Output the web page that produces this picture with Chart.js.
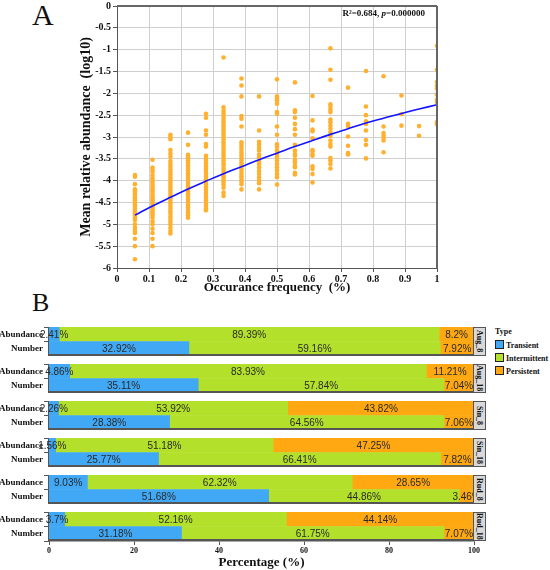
<!DOCTYPE html>
<html>
<head>
<meta charset="utf-8">
<script src="https://cdn.jsdelivr.net/npm/chart.js@4.4.1/dist/chart.umd.min.js"></script>
<style>
  body { margin: 0; background: #fff; }
  #wrap { position: relative; width: 550px; height: 570px; }
  canvas { position: absolute; left: 0; }
  .panel { position: absolute; left: 32px; font-family: "Liberation Serif", serif; color: #111; }
  .strip {
    position: absolute; left: 473px; width: 13px; height: 29px; box-sizing: border-box;
    background: #d9d9d9; border: 1px solid #555; writing-mode: vertical-rl;
    font: bold 8px "Liberation Serif", serif; color: #111; text-align: center; line-height: 11px;
  }
  .legend { position: absolute; left: 495px; top: 327px; font: bold 8px "Liberation Serif", serif; color: #111; }
  .legend div { height: 13px; line-height: 10px; white-space: nowrap; }
  .legend span { display: inline-block; width: 7px; height: 7px; border: 1px solid #222; vertical-align: -1px; margin-right: 2px; }
</style>
</head>
<body>
<div id="wrap">
  <div id="facets"></div>
  <div class="panel" style="top:0; font-size:30px; line-height:30px;">A</div>
  <div class="panel" style="top:290px; font-size:26px; line-height:26px;">B</div>
  <div class="legend">
    <div>Type</div>
    <div><span style="background:#40a8f5"></span>Transient</div>
    <div><span style="background:#b3e02b"></span>Intermittent</div>
    <div><span style="background:#ffa812"></span>Persistent</div>
  </div>
  <canvas id="scatterA" width="550" height="295" style="top:0"></canvas>
</div>
<script>
// --- Panel A : occurrence frequency vs mean relative abundance ---
const freqLevels = [0.056, 0.111, 0.167, 0.222, 0.278, 0.333, 0.389, 0.444, 0.5, 0.556, 0.611, 0.667, 0.722, 0.778, 0.833, 0.889, 0.944, 1];

const abund01 = [-3.87, -3.91, -4.08, -4.2, -4.25, -4.3, -4.35, -4.4, -4.45, -4.5, -4.55, -4.6, -4.65, -4.7, -4.75, -4.8, -4.85, -4.9, -5.0, -5.08, -5.15, -5.2, -5.33, -5.5, -5.8];
const abund02 = [-3.52, -3.7, -3.75, -3.8, -3.88, -3.95, -4.0, -4.05, -4.1, -4.15, -4.2, -4.25, -4.3, -4.35, -4.4, -4.45, -4.5, -4.55, -4.6, -4.65, -4.7, -4.75, -4.8, -4.85, -4.93, -5.0, -5.1, -5.2, -5.33, -5.5];
const abund03 = [-2.95, -3.0, -3.05, -3.3, -3.38, -3.45, -3.55, -3.62, -3.68, -3.74, -3.8, -3.86, -3.92, -3.98, -4.04, -4.1, -4.16, -4.22, -4.28, -4.34, -4.4, -4.46, -4.52, -4.58, -4.64, -4.7, -4.76, -4.82, -4.88, -4.94, -5.0, -5.08, -5.15, -5.21];
const abund04 = [-2.9, -3.18, -3.41, -3.47, -3.53, -3.59, -3.65, -3.71, -3.77, -3.83, -3.89, -3.95, -4.01, -4.07, -4.13, -4.19, -4.25, -4.31, -4.37, -4.43, -4.49, -4.55, -4.61, -4.67, -4.73, -4.79, -4.85];
const abund05 = [-2.47, -2.56, -2.85, -2.95, -3.16, -3.22, -3.43, -3.49, -3.55, -3.61, -3.67, -3.73, -3.79, -3.85, -3.91, -3.97, -4.03, -4.09, -4.15, -4.21, -4.27, -4.33, -4.39, -4.45, -4.51, -4.57, -4.63, -4.68];
const abund06 = [-1.18, -2.32, -2.4, -2.46, -2.52, -2.58, -2.64, -2.7, -2.76, -2.82, -2.88, -2.94, -3.0, -3.06, -3.12, -3.18, -3.24, -3.3, -3.36, -3.42, -3.48, -3.54, -3.6, -3.66, -3.72, -3.78, -3.84, -3.9, -3.96, -4.02, -4.08, -4.16, -4.27, -4.35];
const abund07 = [-1.66, -1.82, -2.07, -2.52, -2.58, -2.76, -3.12, -3.18, -3.24, -3.3, -3.36, -3.42, -3.48, -3.54, -3.6, -3.66, -3.72, -3.78, -3.84, -3.9, -3.96, -4.02, -4.08, -4.2];
const abund08 = [-2.07, -2.85, -3.11, -3.17, -3.25, -3.31, -3.4, -3.47, -3.55, -3.62, -3.7, -3.78, -3.85, -3.93, -4.0, -4.06, -4.2];
const abund09 = [-1.68, -2.07, -2.12, -2.16, -2.24, -2.43, -2.47, -2.76, -2.95, -3.17, -3.23, -3.31, -3.39, -3.46, -3.54, -3.62, -3.69, -3.77, -3.85, -3.92, -4.09];
const abund10 = [-1.75, -2.39, -2.43, -2.56, -2.7, -2.82, -2.95, -3.18, -3.31, -3.39, -3.43, -3.52, -3.58, -3.66, -3.69, -3.82, -3.86];
const abund11 = [-2.06, -2.62, -2.83, -2.87, -3.03, -3.3, -3.33, -3.4, -3.43, -3.67, -3.73, -3.85, -4.04];
const abund12 = [-0.97, -1.46, -1.69, -2.25, -2.31, -2.37, -2.43, -2.6, -2.66, -2.74, -2.81, -2.89, -2.97, -3.08, -3.16, -3.22, -3.48, -3.54, -3.62, -3.72];
const abund13 = [-1.87, -2.7, -2.75, -2.99, -3.2, -3.37, -3.4];
const abund14 = [-1.49, -2.3, -2.5, -2.64, -2.7, -2.85, -3.07, -3.18, -3.49];
const abund15 = [-1.61, -2.76, -2.91, -2.97, -3.02, -3.08, -3.35];
const abund16 = [-2.05, -2.48, -2.74];
const abund17 = [-2.75, -2.97];
const abund18 = [-0.91, -1.46, -1.74, -1.82, -1.89, -2.03, -2.15, -2.2, -2.66, -2.71];
const abundByFreq = [abund01, abund02, abund03, abund04, abund05, abund06, abund07, abund08, abund09,
                     abund10, abund11, abund12, abund13, abund14, abund15, abund16, abund17, abund18];

// fitted curve, read at each frequency level
const fitCurve = [-4.79, -4.58, -4.38, -4.19, -4.01, -3.84, -3.68, -3.52, -3.37, -3.22, -3.08, -2.94, -2.81, -2.68, -2.57, -2.46, -2.36, -2.26];

// --- Panel B : share of each type per site ---
const sites = ['Aug_8', 'Aug_18', 'Sin_8', 'Sin_18', 'Rud_8', 'Rud_18'];
const rowLabels = ['Abundance', 'Number'];
const typeNames = ['Transient', 'Intermittent', 'Persistent'];
const transientPct = [[2.41, 32.92], [4.86, 35.11], [2.26, 28.38], [1.56, 25.77], [9.03, 51.68], [3.7, 31.18]];
const intermittentPct = [[89.39, 59.16], [83.93, 57.84], [53.92, 64.56], [51.18, 66.41], [62.32, 44.86], [52.16, 61.75]];
const persistentPct = [[8.2, 7.92], [11.21, 7.04], [43.82, 7.06], [47.25, 7.82], [28.65, 3.46], [44.14, 7.07]];
const percentTicks = [0, 20, 40, 60, 80, 100];

const serif = '"Liberation Serif", "Times New Roman", serif';
const typeColors = ['#40a8f5', '#b3e02b', '#ffa812'];

function cleanNum(v) {
    return String(Number(v.toFixed(2)));
}

// percentage text in the middle of every segment, plus bottom line of the panel
const segmentLabels = {
    id: 'segmentLabels',
    afterDatasetsDraw(chart) {
        const { ctx, chartArea } = chart;
        ctx.save();
        ctx.fillStyle = '#555';
        ctx.fillRect(chartArea.left, Math.round(chartArea.bottom) - 2, chartArea.right - chartArea.left, 2);

        ctx.font = '10px "Liberation Sans", Arial, sans-serif';
        ctx.fillStyle = '#2a2a2a';
        ctx.textAlign = 'center';
        ctx.textBaseline = 'middle';
        chart.data.datasets.forEach((ds, di) => {
            chart.getDatasetMeta(di).data.forEach((bar, j) => {
                const c = bar.getCenterPoint();
                ctx.fillText(ds.data[j] + '%', c.x, c.y + 0.5);
            });
        });
        ctx.restore();
    }
};

const facetBox = document.getElementById('facets');
const facetTop = 327;
const facetStep = 37;
const facetHeight = 29;

sites.forEach((site, i) => {
    const last = i === sites.length - 1;
    const top = facetTop + i * facetStep;

    const canvas = document.createElement('canvas');
    canvas.width = 490;
    canvas.height = last ? facetHeight + 29 : facetHeight;
    canvas.style.top = top + 'px';
    facetBox.appendChild(canvas);

    const strip = document.createElement('div');
    strip.className = 'strip';
    strip.style.top = top + 'px';
    strip.textContent = site;
    facetBox.appendChild(strip);

    const seriesData = [transientPct[i], intermittentPct[i], persistentPct[i]];

    new Chart(canvas, {
        type: 'bar',
        data: {
            labels: rowLabels,
            datasets: typeNames.map((name, k) => ({
                label: name,
                data: seriesData[k],
                backgroundColor: typeColors[k],
                borderWidth: 0,
                categoryPercentage: 1,
                barPercentage: 1
            }))
        },
        options: {
            indexAxis: 'y',
            responsive: false,
            animation: false,
            layout: { padding: { top: 0, left: 0, bottom: 0, right: 16 } },
            plugins: { legend: { display: false }, tooltip: { enabled: false } },
            scales: {
                x: {
                    stacked: true, min: 0, max: 100,
                    display: last,
                    afterBuildTicks: s => { s.ticks = percentTicks.map(v => ({ value: v })); },
                    ticks: { color: '#111', padding: 1, maxRotation: 0,
                             font: { family: serif, size: 8, weight: 'bold' } },
                    grid: { drawOnChartArea: false, tickColor: '#555', tickLength: 4 },
                    border: { color: '#555', width: 1.5 },
                    title: { display: true, text: 'Percentage (%)', color: '#111', padding: 0,
                             font: { family: serif, size: 13, weight: 'bold' } },
                    afterFit: s => { s.height = last ? 29 : 0; s.paddingLeft = 0; s.paddingRight = 0; }
                },
                y: {
                    stacked: true,
                    ticks: { color: '#111', padding: 1, font: { family: serif, size: 9, weight: 'bold' } },
                    grid: { drawOnChartArea: false, tickColor: '#555', tickLength: 5 },
                    border: { color: '#555', width: 1.5 },
                    afterFit: s => { s.width = 49; s.paddingTop = 0; s.paddingBottom = 0; }
                }
            }
        },
        plugins: [segmentLabels]
    });
});

// frame + R² text on panel A
const frameAndStats = {
    id: 'frameAndStats',
    afterDraw(chart) {
        const { ctx, chartArea } = chart;
        const { left, top, right, bottom } = chartArea;
        ctx.save();
        ctx.fillStyle = '#666';
        ctx.fillRect(Math.round(left), Math.round(top) - 1, Math.round(right - left), 2);
        ctx.fillRect(Math.round(right) - 1, Math.round(top), 2, Math.round(bottom - top));

        const parts = [
            ['R\u00b2=0.684, ', 'bold 9px ' + serif],
            ['p', 'italic bold 9px ' + serif],
            ['=0.000000', 'bold 9px ' + serif]
        ];
        let total = 0;
        parts.forEach(p => { ctx.font = p[1]; total += ctx.measureText(p[0]).width; });
        let x = right - 12 - total;
        ctx.fillStyle = '#111';
        ctx.textBaseline = 'middle';
        parts.forEach(p => {
            ctx.font = p[1];
            ctx.fillText(p[0], x, top + 8);
            x += ctx.measureText(p[0]).width;
        });
        ctx.restore();
    }
};

const scatterPoints = freqLevels.flatMap((f, i) => abundByFreq[i].map(v => ({ x: f, y: v })));
const curvePoints = freqLevels.map((f, i) => ({ x: f, y: fitCurve[i] }));

new Chart(document.getElementById('scatterA'), {
    type: 'scatter',
    data: {
        datasets: [
            {
                type: 'line',
                data: curvePoints,
                borderColor: '#1414ff',
                borderWidth: 1.6,
                pointRadius: 0,
                tension: 0.4,
                fill: false
            },
            {
                data: scatterPoints,
                backgroundColor: '#ffb02e',
                borderColor: '#ffb02e',
                pointBorderWidth: 0,
                pointRadius: 2.3
            }
        ]
    },
    options: {
        responsive: false,
        animation: false,
        layout: { padding: { top: 6, right: 113, left: 0, bottom: 0 } },
        plugins: { legend: { display: false }, tooltip: { enabled: false } },
        scales: {
            x: {
                type: 'linear', min: 0, max: 1,
                ticks: { stepSize: 0.1, callback: cleanNum, color: '#111', padding: 1, maxRotation: 0,
                         font: { family: serif, size: 10, weight: 'bold' } },
                grid: { color: '#cfcfcf', lineWidth: 1, tickColor: '#555', tickLength: 4 },
                border: { color: '#555' },
                title: { display: true, text: 'Occurance frequency  (%)', color: '#111', padding: 0,
                         font: { family: serif, size: 13, weight: 'bold' } },
                afterFit: s => { s.height = 27; s.paddingLeft = 0; s.paddingRight = 0; }
            },
            y: {
                min: -6, max: 0,
                ticks: { stepSize: 0.5, callback: cleanNum, color: '#111', padding: 2,
                         font: { family: serif, size: 10, weight: 'bold' } },
                grid: { color: '#cfcfcf', lineWidth: 1, tickColor: '#555', tickLength: 4 },
                border: { color: '#555' },
                title: { display: true, text: 'Mean relative abundance  (log10)', color: '#111',
                         padding: { top: 78, bottom: 0 },
                         font: { family: serif, size: 14, weight: 'bold' } },
                afterFit: s => { s.width = 117; s.paddingTop = 0; s.paddingBottom = 0; }
            }
        }
    },
    plugins: [frameAndStats]
});
</script>
</body>
</html>
